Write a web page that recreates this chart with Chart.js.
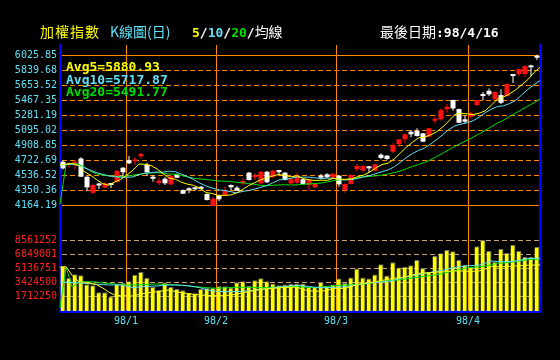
<!DOCTYPE html>
<html>
<head>
<meta charset="utf-8">
<title>加權指數 K線圖(日)</title>
<script src="https://cdn.jsdelivr.net/npm/chart.js@4.4.1/dist/chart.umd.min.js"></script>
<style>
  body { margin: 0; background: #000; }
  #box { position: relative; width: 560px; height: 360px; background: #000; overflow: hidden; }
  #box canvas { position: absolute; left: 0; top: 0; }
  .lbl { position: absolute; white-space: pre; line-height: 14px; font-size: 14px; }
  .cjk { font-family: "Noto Sans CJK TC", "Noto Sans CJK SC", sans-serif; font-size: 14px; }
  .num { font-family: "DejaVu Sans Mono", monospace; font-weight: bold; font-size: 13px; }
</style>
</head>
<body>
<div id="box">
  <canvas id="kline" width="560" height="360"></canvas>
  <div class="lbl cjk" style="left:40px;top:24px;color:#ffff00;letter-spacing:1px">加權指數</div>
  <div class="lbl cjk" style="left:110px;top:24px;color:#5fe0f5">K線圖(日)</div>
  <div class="lbl" style="left:192px;top:24px;color:#fff"><span class="num" style="color:#ffff00">5</span><span class="num">/</span><span class="num" style="color:#5fe0f5">10</span><span class="num">/</span><span class="num" style="color:#00e000">20</span><span class="num">/</span><span class="cjk">均線</span></div>
  <div class="lbl" style="left:380px;top:24px;color:#fff"><span class="cjk">最後日期</span><span class="num">:98/4/16</span></div>
  <div class="lbl num" style="left:66px;top:60px;color:#ffff00">Avg5=5880.93</div>
  <div class="lbl num" style="left:66px;top:72.5px;color:#5fe0f5">Avg10=5717.87</div>
  <div class="lbl num" style="left:66px;top:85px;color:#00e000">Avg20=5491.77</div>
</div>
<script>
/* trading days shown */
var days = [
  '97/12/17','97/12/18','97/12/19','97/12/22','97/12/23','97/12/24','97/12/25','97/12/26','97/12/29','97/12/30','97/12/31',
  '98/1/5','98/1/6','98/1/7','98/1/8','98/1/9','98/1/10','98/1/12','98/1/13','98/1/14','98/1/15','98/1/16','98/1/17','98/1/19','98/1/20','98/1/21',
  '98/2/2','98/2/3','98/2/4','98/2/5','98/2/6','98/2/9','98/2/10','98/2/11','98/2/12','98/2/13',
  '98/2/16','98/2/17','98/2/18','98/2/19','98/2/20','98/2/23','98/2/24','98/2/25','98/2/26','98/2/27',
  '98/3/2','98/3/3','98/3/4','98/3/5','98/3/6','98/3/9','98/3/10','98/3/11','98/3/12','98/3/13',
  '98/3/16','98/3/17','98/3/18','98/3/19','98/3/20','98/3/23','98/3/24','98/3/25','98/3/26','98/3/27','98/3/30','98/3/31',
  '98/4/1','98/4/2','98/4/3','98/4/6','98/4/7','98/4/8','98/4/9','98/4/10','98/4/13','98/4/14','98/4/15','98/4/16'
];

var open = [4705,4664,4680,4745,4519,4320,4435,4383,4437,4453,
  4631,4723,4710,4772,4668,4519,4441,4494,4425,4549,
  4354,4370,4383,4395,4304,4156,4283,4292,4416,4383,
  4437,4569,4512,4437,4581,4519,4602,4569,4437,4445,
  4487,4416,4388,4528,4549,4507,4532,4354,4429,4611,
  4594,4643,4594,4792,4780,4829,4925,4983,5078,5090,
  5058,5016,5214,5231,5355,5471,5359,5231,5264,5409,
  5541,5586,5479,5532,5520,5780,5793,5793,5892,6013];
var high = [4720,4701,4725,4760,4525,4435,4441,4447,4441,4602,
  4640,4776,4760,4817,4693,4540,4507,4519,4544,4559,
  4360,4388,4391,4404,4310,4271,4292,4395,4422,4404,
  4499,4577,4561,4590,4590,4602,4606,4577,4495,4569,
  4495,4495,4441,4553,4561,4565,4540,4435,4553,4677,
  4664,4652,4683,4809,4788,4933,4987,5055,5099,5120,
  5062,5124,5264,5368,5421,5476,5363,5281,5326,5471,
  5570,5615,5577,5603,5675,5780,5861,5898,5909,6033];
var low = [4608,4631,4610,4515,4345,4304,4366,4379,4379,4441,
  4519,4677,4664,4742,4528,4457,4416,4416,4404,4503,
  4304,4313,4345,4360,4224,4150,4218,4280,4354,4341,
  4416,4472,4478,4429,4441,4499,4540,4472,4429,4429,
  4422,4354,4379,4487,4499,4499,4395,4321,4422,4581,
  4584,4569,4590,4735,4726,4809,4892,4933,5008,5018,
  4950,5012,5182,5214,5313,5338,5185,5182,5244,5396,
  5471,5520,5471,5421,5513,5681,5768,5760,5768,5967];
var close = [4623,4689,4690,4519,4387,4416,4410,4437,4416,4590,
  4574,4685,4730,4801,4574,4494,4470,4437,4528,4507,
  4308,4350,4363,4366,4230,4246,4239,4354,4388,4345,
  4466,4478,4536,4581,4450,4594,4574,4478,4487,4519,
  4429,4487,4437,4507,4512,4556,4425,4429,4540,4652,
  4652,4623,4672,4751,4739,4912,4983,5045,5045,5024,
  4954,5120,5239,5347,5388,5367,5189,5202,5306,5471,
  5520,5541,5570,5437,5669,5768,5855,5892,5876,5996];

var ma5 = [4665,4675,4685,4660,4582,4540,4484,4434,4413,4454,
  4485,4540,4599,4676,4673,4657,4614,4555,4501,4487,
  4450,4426,4411,4379,4323,4311,4289,4287,4291,4314,
  4358,4406,4443,4481,4502,4528,4547,4535,4517,4530,
  4497,4480,4472,4476,4474,4500,4487,4486,4492,4520,
  4540,4579,4628,4670,4687,4739,4811,4886,4945,5002,
  5010,5038,5076,5137,5210,5292,5306,5299,5290,5307,
  5338,5408,5482,5508,5547,5597,5660,5724,5812,5877];
var ma10 = [4660,4670,4675,4660,4630,4600,4570,4550,4530,4518,
  4513,4512,4516,4545,4563,4571,4577,4577,4588,4580,
  4553,4520,4483,4440,4405,4381,4357,4349,4335,4319,
  4335,4348,4365,4386,4408,4443,4477,4489,4499,4516,
  4513,4514,4504,4496,4502,4499,4484,4479,4484,4497,
  4520,4533,4557,4581,4604,4640,4695,4757,4807,4845,
  4875,4925,4981,5041,5106,5151,5172,5188,5214,5258,
  5315,5357,5390,5399,5427,5467,5534,5603,5660,5712];
var ma20 = [4180,4670,4680,4676,4640,4590,4555,4538,4530,4525,
  4520,4525,4538,4550,4561,4566,4569,4562,4553,4549,
  4533,4516,4500,4492,4484,4476,4467,4463,4462,4449,
  4444,4434,4424,4413,4407,4412,4417,4419,4417,4418,
  4424,4431,4434,4441,4455,4471,4480,4484,4492,4507,
  4516,4523,4530,4539,4553,4569,4590,4618,4646,4671,
  4697,4729,4769,4811,4855,4895,4934,4972,5011,5051,
  5095,5141,5186,5220,5266,5309,5353,5395,5437,5485];

var volume = [5440000,4010000,4460000,4340000,3240000,3120000,2260000,2260000,1770000,3280000,
  3400000,3610000,4380000,4710000,4010000,2910000,2540000,3450000,2910000,2670000,
  2510000,2180000,2140000,2670000,2790000,2790000,3000000,3000000,2840000,3490000,
  3610000,3030000,3730000,3970000,3610000,3330000,3120000,3200000,3280000,3330000,
  3330000,2910000,2910000,3520000,3030000,3200000,3940000,3400000,4060000,5160000,
  4060000,3940000,4430000,5650000,4310000,5890000,5280000,5360000,5530000,6180000,
  5200000,4710000,6670000,7000000,7400000,7240000,6180000,5560000,5360000,7850000,
  8590000,7280000,5970000,7520000,7030000,8010000,7280000,6540000,6580000,7770000];
var volMa5 = [5300000,5360000,4300000,3600000,3450000,3350000,3200000,2800000,2300000,1940000,
  1850000,1820000,1820000,2000000,2150000,2250000,2340000,2450000,2540000,2340000,
  2220000,2120000,2020000,1950000,1880000,1860000,1860000,1860000,1930000,2020000,
  2180000,2340000,2500000,2620000,2680000,2740000,2800000,2850000,2870000,2900000,
  2600000,2450000,2400000,2400000,2500000,2740000,2740000,2740000,3000000,3200000,
  3350000,3450000,3550000,3700000,3850000,3960000,4050000,4160000,4350000,4560000,
  4600000,4650000,4700000,4750000,4800000,4850000,4850000,4800000,4800000,4850000,
  5100000,5370000,5370000,5370000,5400000,5450000,5500000,5550000,5570000,5570000];
var volMa10 = [3500000,3500000,3450000,3400000,3350000,3300000,3250000,3200000,3150000,3150000,
  3150000,3000000,2830000,2900000,2970000,3000000,3030000,3120000,3150000,3150000,
  3120000,3070000,2950000,2830000,2600000,2450000,2380000,2340000,2340000,2340000,
  2380000,2440000,2520000,2620000,2700000,2800000,2900000,2970000,3050000,3100000,
  3050000,2950000,2880000,2830000,2830000,2850000,2900000,2950000,3080000,3200000,
  3300000,3400000,3470000,3520000,3570000,3750000,3950000,4160000,4280000,4400000,
  4550000,4680000,4800000,4950000,5100000,5270000,5380000,5470000,5520000,5570000,
  5800000,6050000,6000000,5970000,6000000,6050000,6200000,6350000,6380000,6380000];
var volMa20 = [400000,5300000,2900000,3450000,3550000,3550000,3500000,3400000,3350000,3270000,
  3200000,3150000,3150000,3170000,3220000,3250000,3270000,3230000,3200000,3150000,
  3100000,3050000,2970000,2900000,2830000,2780000,2750000,2800000,2840000,2870000,
  2870000,2870000,2840000,2830000,2830000,2860000,2900000,2950000,2980000,2950000,
  2900000,2850000,2830000,2900000,2980000,3070000,3100000,3150000,3180000,3220000,
  3270000,3370000,3500000,3580000,3660000,3730000,3800000,3900000,4000000,4100000,
  4200000,4300000,4400000,4550000,4720000,4900000,5050000,5250000,5300000,5360000,
  5450000,5600000,5770000,5820000,5880000,5980000,6100000,6200000,6270000,6300000];

var priceTicks = [4164.19, 4350.36, 4536.52, 4722.69, 4908.85, 5095.02, 5281.19, 5467.35, 5653.52, 5839.68, 6025.85];
var volumeTicks = [1712250, 3424500, 5136751, 6849001, 8561252];

var RED = '#ff1010';
var WHITE = '#ffffff';
var YELLOW = '#ffff00';
var CYAN = '#5fe0f5';
var GREEN = '#00e000';
var BLUE = '#0000ff';
var ORANGE = '#ff8800';
var TAN = '#c8a46e';
var MONO = 'DejaVu Sans Mono';

function monthOf(day) {
  var p = day.split('/');
  return p[0] + '/' + p[1];
}

// label only the first trading day of each month
function monthLabel(i) {
  if (i > 0 && i < days.length && monthOf(days[i]) != monthOf(days[i - 1])) {
    return monthOf(days[i]);
  }
  return '';
}

var candleColors = close.map(function(c, i) { return c > open[i] ? RED : WHITE; });
var bodies = open.map(function(o, i) { return [o, close[i]]; });
var wicks = low.map(function(l, i) { return [l, high[i]]; });

function maLine(data, color, axis, order) {
  return {
    type: 'line', data: data, xAxisID: 'x2', yAxisID: axis,
    borderColor: color, borderWidth: 1, pointRadius: 0, tension: 0,
    fill: false, order: order
  };
}

var chart = new Chart(document.getElementById('kline'), {
  type: 'bar',
  data: {
    labels: days,
    datasets: [
      maLine(ma5, YELLOW, 'y', 0),
      maLine(ma10, CYAN, 'y', 0),
      maLine(ma20, GREEN, 'y', 0),
      {
        data: bodies, xAxisID: 'x', yAxisID: 'y', backgroundColor: candleColors,
        barThickness: 5, grouped: false, minBarLength: 2, inflateAmount: 0, order: 1
      },
      {
        data: wicks, xAxisID: 'x', yAxisID: 'y', backgroundColor: candleColors,
        barThickness: 1, grouped: false, inflateAmount: 0, order: 2
      },
      maLine(volMa5, YELLOW, 'yv', 3),
      maLine(volMa10, CYAN, 'yv', 3),
      maLine(volMa20, GREEN, 'yv', 3),
      {
        data: volume, xAxisID: 'x', yAxisID: 'yv', backgroundColor: YELLOW,
        borderColor: '#6e6e6e', borderWidth: { top: 1, right: 1, left: 0, bottom: 0 },
        borderSkipped: false, barThickness: 5, grouped: false, inflateAmount: 0, order: 4
      }
    ]
  },
  options: {
    responsive: false,
    animation: false,
    events: [],
    layout: { padding: { top: 45, left: 0, right: 20, bottom: 0 } },
    plugins: { legend: { display: false }, tooltip: { enabled: false } },
    scales: {
      x: {
        type: 'category', position: 'bottom', offset: true,
        grid: {
          offset: true, drawTicks: false, lineWidth: 1,
          color: function(c) { return monthLabel(c.index) ? ORANGE : 'rgba(0,0,0,0)'; }
        },
        border: { color: BLUE, width: 3 },
        ticks: {
          autoSkip: false, maxRotation: 0, minRotation: 0, padding: 4, labelOffset: -3,
          color: CYAN, font: { family: MONO, size: 10 },
          callback: function(value, index) { return monthLabel(index); }
        },
        afterFit: function(s) { s.height = 49; }
      },
      x2: { type: 'category', position: 'bottom', offset: false, display: false },
      y: {
        type: 'linear', position: 'left', stack: 'k', stackWeight: 181, weight: 2,
        min: 3907.3, max: 6153.7,
        afterBuildTicks: function(s) { s.ticks = priceTicks.map(function(v) { return { value: v }; }); },
        grid: { color: ORANGE, drawTicks: false, lineWidth: 1 },
        border: {
          color: BLUE, width: 3,
          dash: function(c) {
            return (c.index === 0 || c.index === priceTicks.length - 1) ? [] : [5, 3];
          }
        },
        ticks: {
          autoSkip: false, padding: 3, color: CYAN, font: { family: MONO, size: 10 },
          callback: function(v) { return v.toFixed(2); }
        },
        afterFit: function(s) { s.width = 60; }
      },
      yv: {
        type: 'linear', position: 'left', stack: 'k', stackWeight: 85, weight: 1,
        min: 0, max: 10293000,
        afterBuildTicks: function(s) { s.ticks = volumeTicks.map(function(v) { return { value: v }; }); },
        grid: { color: TAN, drawTicks: false, lineWidth: 1 },
        border: { color: BLUE, width: 3, dash: [5, 3] },
        ticks: {
          autoSkip: false, padding: 3, color: '#ff2020', font: { family: MONO, size: 10 },
          callback: function(v) { return String(v); }
        },
        afterFit: function(s) { s.width = 60; }
      },
      yr: {
        type: 'linear', position: 'right', min: 0, max: 1,
        grid: { display: false },
        border: { color: BLUE, width: 3 },
        ticks: { display: false },
        afterFit: function(s) { s.width = 0; }
      }
    }
  }
});
</script>
</body>
</html>
